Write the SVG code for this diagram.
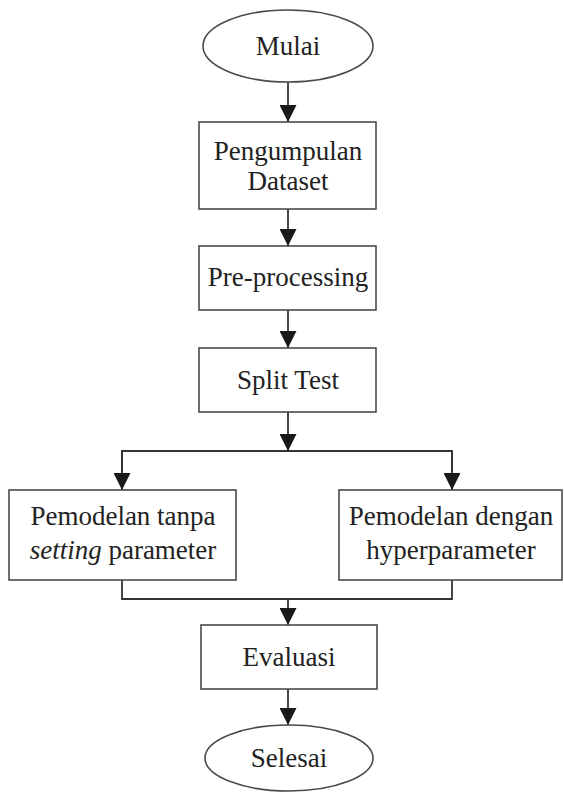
<svg xmlns="http://www.w3.org/2000/svg" width="564" height="796" viewBox="0 0 564 796">
  <style>
    .shape { fill: #ffffff; stroke: #4a4a4a; stroke-width: 1.6; }
    .label { font-family: "Liberation Serif", "Times New Roman", serif; font-size: 27px; fill: #222222; text-anchor: middle; }
    .wire { fill: none; stroke: #333333; stroke-width: 1.8; }
  </style>
  <defs>
    <marker id="arrow" viewBox="0 0 17 17" refX="17" refY="8.5" markerWidth="17" markerHeight="17" markerUnits="userSpaceOnUse" orient="auto">
      <path d="M0,0 L17,8.5 L0,17 Z" fill="#1a1a1a"/>
    </marker>
  </defs>
  <rect width="564" height="796" fill="#ffffff"/>

  <!-- connectors -->
  <g id="connectors">
    <line class="wire" x1="288" y1="82" x2="288" y2="122" marker-end="url(#arrow)"/>
    <line class="wire" x1="288" y1="209" x2="288" y2="246" marker-end="url(#arrow)"/>
    <line class="wire" x1="288" y1="310" x2="288" y2="348" marker-end="url(#arrow)"/>
    <line class="wire" x1="288" y1="412" x2="288" y2="451" marker-end="url(#arrow)"/>
    <polyline class="wire" points="122,472 122,451 452,451 452,472"/>
    <line class="wire" x1="122" y1="451" x2="122" y2="490" marker-end="url(#arrow)"/>
    <line class="wire" x1="452" y1="451" x2="452" y2="490" marker-end="url(#arrow)"/>
    <polyline class="wire" points="122,580 122,599 452,599 452,580"/>
    <line class="wire" x1="288" y1="599" x2="288" y2="625" marker-end="url(#arrow)"/>
    <line class="wire" x1="288" y1="689" x2="288" y2="725" marker-end="url(#arrow)"/>
  </g>

  <g id="mulai">
    <ellipse class="shape" cx="288" cy="46" rx="85" ry="36"/>
    <text class="label" x="288" y="55">Mulai</text>
  </g>

  <g id="pengumpulan-dataset">
    <rect class="shape" x="199" y="122" width="177" height="87"/>
    <text class="label" x="288" y="160">Pengumpulan</text>
    <text class="label" x="288" y="190">Dataset</text>
  </g>

  <g id="pre-processing">
    <rect class="shape" x="199" y="246" width="177" height="64"/>
    <text class="label" x="288" y="286">Pre-processing</text>
  </g>

  <g id="split-test">
    <rect class="shape" x="199" y="348" width="177" height="64"/>
    <text class="label" x="288" y="389">Split Test</text>
  </g>

  <g id="pemodelan-tanpa-setting">
    <rect class="shape" x="9" y="490" width="227" height="90"/>
    <text class="label" x="123" y="525">Pemodelan tanpa</text>
    <text class="label" x="123" y="559"><tspan font-style="italic">setting</tspan> parameter</text>
  </g>

  <g id="pemodelan-hyperparameter">
    <rect class="shape" x="339" y="490" width="223" height="90"/>
    <text class="label" x="451" y="525">Pemodelan dengan</text>
    <text class="label" x="451" y="559">hyperparameter</text>
  </g>

  <g id="evaluasi">
    <rect class="shape" x="201" y="625" width="176" height="64"/>
    <text class="label" x="289" y="666">Evaluasi</text>
  </g>

  <g id="selesai">
    <ellipse class="shape" cx="289" cy="758" rx="84" ry="33"/>
    <text class="label" x="289" y="767">Selesai</text>
  </g>
</svg>
